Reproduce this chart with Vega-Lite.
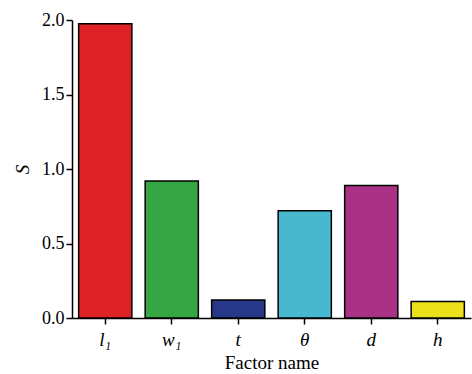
{
  "$schema": "https://vega.github.io/schema/vega-lite/v6.json",
  "autosize": "none",
  "width": 399,
  "height": 298,
  "padding": {"left": 72, "top": 20, "right": 1, "bottom": 56},
  "background": "white",
  "data": {"values": [
    {"factor": "l₁", "S": 1.975, "c": "#de2226"},
    {"factor": "w₁", "S": 0.92, "c": "#36a645"},
    {"factor": "t", "S": 0.12, "c": "#283888"},
    {"factor": "θ", "S": 0.72, "c": "#48b8cf"},
    {"factor": "d", "S": 0.89, "c": "#a93186"},
    {"factor": "h", "S": 0.11, "c": "#ece01a"}
  ]},
  "mark": {"type": "bar", "stroke": "black", "strokeWidth": 1.5},
  "encoding": {
    "x": {"field": "factor", "type": "nominal", "sort": null,
      "scale": {"paddingInner": 0.2, "paddingOuter": 0.1},
      "axis": {"title": "Factor name", "labelAngle": 0, "labelFont": "'Liberation Serif', serif", "labelFontStyle": "italic", "labelFontSize": 19, "labelColor": "black", "labelPadding": 6,
        "titleFont": "'Liberation Serif', serif", "titleFontSize": 19, "titleFontWeight": "normal", "titleColor": "black", "titlePadding": 4,
        "domainColor": "black", "domainWidth": 1.5, "tickColor": "black", "tickWidth": 1.5, "tickSize": 6}},
    "y": {"field": "S", "type": "quantitative",
      "scale": {"domain": [0, 2], "nice": false},
      "axis": {"title": "S", "values": [0, 0.5, 1, 1.5, 2], "format": ".1f", "grid": false,
        "labelFont": "'Liberation Serif', serif", "labelFontSize": 18, "labelColor": "black", "labelPadding": 2,
        "titleFont": "'Liberation Serif', serif", "titleFontSize": 19, "titleFontStyle": "italic", "titleFontWeight": "normal", "titleColor": "black", "titlePadding": 9,
        "domainColor": "black", "domainWidth": 1.5, "tickColor": "black", "tickWidth": 1.5, "tickSize": 6}},
    "fill": {"field": "c", "type": "nominal", "scale": null}
  },
  "config": {"view": {"stroke": null}}
}
